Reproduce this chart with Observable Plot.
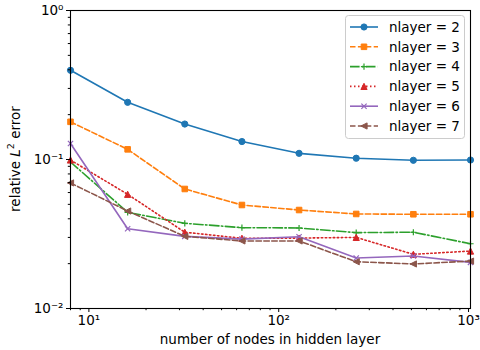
<!DOCTYPE html>
<html>
<head>
<meta charset="utf-8">
<script src="https://cdn.jsdelivr.net/npm/d3@7"></script>
<script src="https://cdn.jsdelivr.net/npm/@observablehq/plot@0.6"></script>
<style>
  html, body { margin: 0; padding: 0; background: #fff; }
  svg { display: block; }
</style>
</head>
<body>
<div id="chart"></div>
<script>
// ---- data ----
const nodes = [8, 16, 32, 64, 128, 256, 512, 1024];
const err2 = [0.397, 0.242, 0.173, 0.132, 0.110, 0.102, 0.0988, 0.0992];
const err3 = [0.179, 0.117, 0.0634, 0.0495, 0.0458, 0.0431, 0.0429, 0.0429];
const err4 = [0.0962, 0.0442, 0.0373, 0.0349, 0.0347, 0.0323, 0.0325, 0.0272];
const err5 = [0.0992, 0.0584, 0.0325, 0.0296, 0.0297, 0.0300, 0.0231, 0.0243];
const err6 = [0.128, 0.0343, 0.0305, 0.0292, 0.0303, 0.0218, 0.0225, 0.0204];
const err7 = [0.0696, 0.0451, 0.0305, 0.0284, 0.0284, 0.0206, 0.0199, 0.0208];
const seriesNames = ["nlayer = 2", "nlayer = 3", "nlayer = 4", "nlayer = 5", "nlayer = 6", "nlayer = 7"];
const xTicks = [10, 100, 1000];
const xTickLabels = ["10\u00B9", "10\u00B2", "10\u00B3"];
const yTicks = [0.01, 0.1, 1];
const yTickLabels = ["10\u207B\u00B2", "10\u207B\u00B9", "10\u2070"];
const xLabel = "number of nodes in hidden layer";

// ---- styles ----
const colors = ["#1f77b4", "#ff7f0e", "#2ca02c", "#d62728", "#9467bd", "#8c564b"];
const dashes = [null, "5.5,2.4", "9.6,2.4,1.5,2.4", "1.5,2.5", null, "5.5,2.4"];
const markerKinds = ["circle", "square", "plus", "triUp", "cross", "triLeft"];
const FS = 13.5;

function drawMarker(kind, ctx, r) {
  switch (kind) {
    case "circle": ctx.moveTo(r, 0); ctx.arc(0, 0, r, 0, 2 * Math.PI); break;
    case "square": { const s = r * 0.9; ctx.rect(-s, -s, 2 * s, 2 * s); break; }
    case "plus": ctx.moveTo(-r, 0); ctx.lineTo(r, 0); ctx.moveTo(0, -r); ctx.lineTo(0, r); break;
    case "cross": { const s = r * 0.85; ctx.moveTo(-s, -s); ctx.lineTo(s, s); ctx.moveTo(-s, s); ctx.lineTo(s, -s); break; }
    case "triUp": ctx.moveTo(0, -r); ctx.lineTo(r, r); ctx.lineTo(-r, r); ctx.closePath(); break;
    case "triLeft": ctx.moveTo(-r, 0); ctx.lineTo(r, -r); ctx.lineTo(r, r); ctx.closePath(); break;
  }
}
const symbolFor = kind => ({ draw(ctx, size) { drawMarker(kind, ctx, Math.sqrt(size / Math.PI)); } });
const stroked = k => k === "plus" || k === "cross";

const errs = [err2, err3, err4, err5, err6, err7];
const series = errs.map((arr, i) => nodes.map((n, j) => ({ n, e: arr[j], s: seriesNames[i] })));

const minorX = [];
for (const d of [1, 10, 100]) for (let k = 2; k <= 9; k++) { const v = k * d; if (v >= 8 && v <= 1024) minorX.push(v); }
const minorY = [];
for (const d of [0.01, 0.1]) for (let k = 2; k <= 9; k++) minorY.push(+(k * d).toPrecision(3));

const MR = 3.1;
const marks = [];
series.forEach((data, i) => {
  marks.push(Plot.line(data, { x: "n", y: "e", stroke: colors[i], strokeWidth: 1.6, strokeDasharray: dashes[i] || undefined }));
  const k = markerKinds[i];
  marks.push(Plot.dot(data, {
    x: "n", y: "e", r: MR, symbol: symbolFor(k),
    fill: stroked(k) ? "none" : colors[i], stroke: colors[i], strokeWidth: stroked(k) ? 1.2 : 1
  }));
});

const chart = Plot.plot({
  width: 480, height: 350,
  marginLeft: 70, marginRight: 10, marginTop: 10, marginBottom: 42,
  style: { fontFamily: "DejaVu Sans", fontSize: FS + "px", background: "#fff", color: "#000" },
  x: { type: "log", domain: [8, 1024], label: null },
  y: { type: "log", domain: [0.01, 1], label: null },
  marks: [
    ...marks,
    Plot.axisX({ ticks: minorX, tickSize: 2.2, tickFormat: () => "", label: null }),
    Plot.axisY({ ticks: minorY, tickSize: 2.2, tickFormat: () => "", label: null }),
    Plot.axisX({ ticks: xTicks, tickSize: 4, tickPadding: 3, fontSize: FS, tickFormat: d => xTickLabels[xTicks.indexOf(d)], label: null }),
    Plot.axisY({ ticks: yTicks, tickSize: 4, tickPadding: 3, fontSize: FS, tickFormat: d => yTickLabels[yTicks.findIndex(t => Math.abs(t - d) < 1e-9)], label: null }),
    Plot.frame({ stroke: "#000", strokeWidth: 1.1 })
  ]
});
document.getElementById("chart").appendChild(chart);

// ---- axis labels & legend ----
const svg = d3.select(chart);
const plotLeft = 70, plotRight = 470, plotTop = 10, plotBottom = 308;
svg.append("text")
  .attr("x", (plotLeft + plotRight) / 2).attr("y", 344)
  .attr("text-anchor", "middle").attr("font-size", FS).attr("fill", "#000")
  .text(xLabel);
const yl = svg.append("text")
  .attr("transform", `translate(19.5,${(plotTop + plotBottom) / 2}) rotate(-90)`)
  .attr("text-anchor", "middle").attr("font-size", FS).attr("fill", "#000");
yl.append("tspan").text("relative ");
yl.append("tspan").attr("font-style", "italic").text("L");
yl.append("tspan").attr("font-size", 9.5).attr("dy", -5.5).text("2");
yl.append("tspan").attr("dy", 5.5).text(" error");

const lg = svg.append("g");
lg.append("rect").attr("x", 345.5).attr("y", 15.5).attr("width", 119).attr("height", 123)
  .attr("rx", 3).attr("fill", "#fff").attr("fill-opacity", 0.8).attr("stroke", "#cccccc").attr("stroke-width", 1);
seriesNames.forEach((name, i) => {
  const y = 27 + i * 19.8;
  lg.append("line").attr("x1", 350).attr("x2", 378).attr("y1", y).attr("y2", y)
    .attr("stroke", colors[i]).attr("stroke-width", 1.6).attr("stroke-dasharray", dashes[i] || null);
  const p = d3.path();
  drawMarker(markerKinds[i], p, MR);
  const k = markerKinds[i];
  lg.append("path").attr("d", p.toString()).attr("transform", `translate(364,${y})`)
    .attr("fill", stroked(k) ? "none" : colors[i]).attr("stroke", colors[i]).attr("stroke-width", stroked(k) ? 1.2 : 1);
  lg.append("text").attr("x", 389).attr("y", y).attr("dy", "0.35em")
    .attr("text-anchor", "start").attr("font-size", FS).attr("fill", "#000").text(name);
});
</script>
</body>
</html>
